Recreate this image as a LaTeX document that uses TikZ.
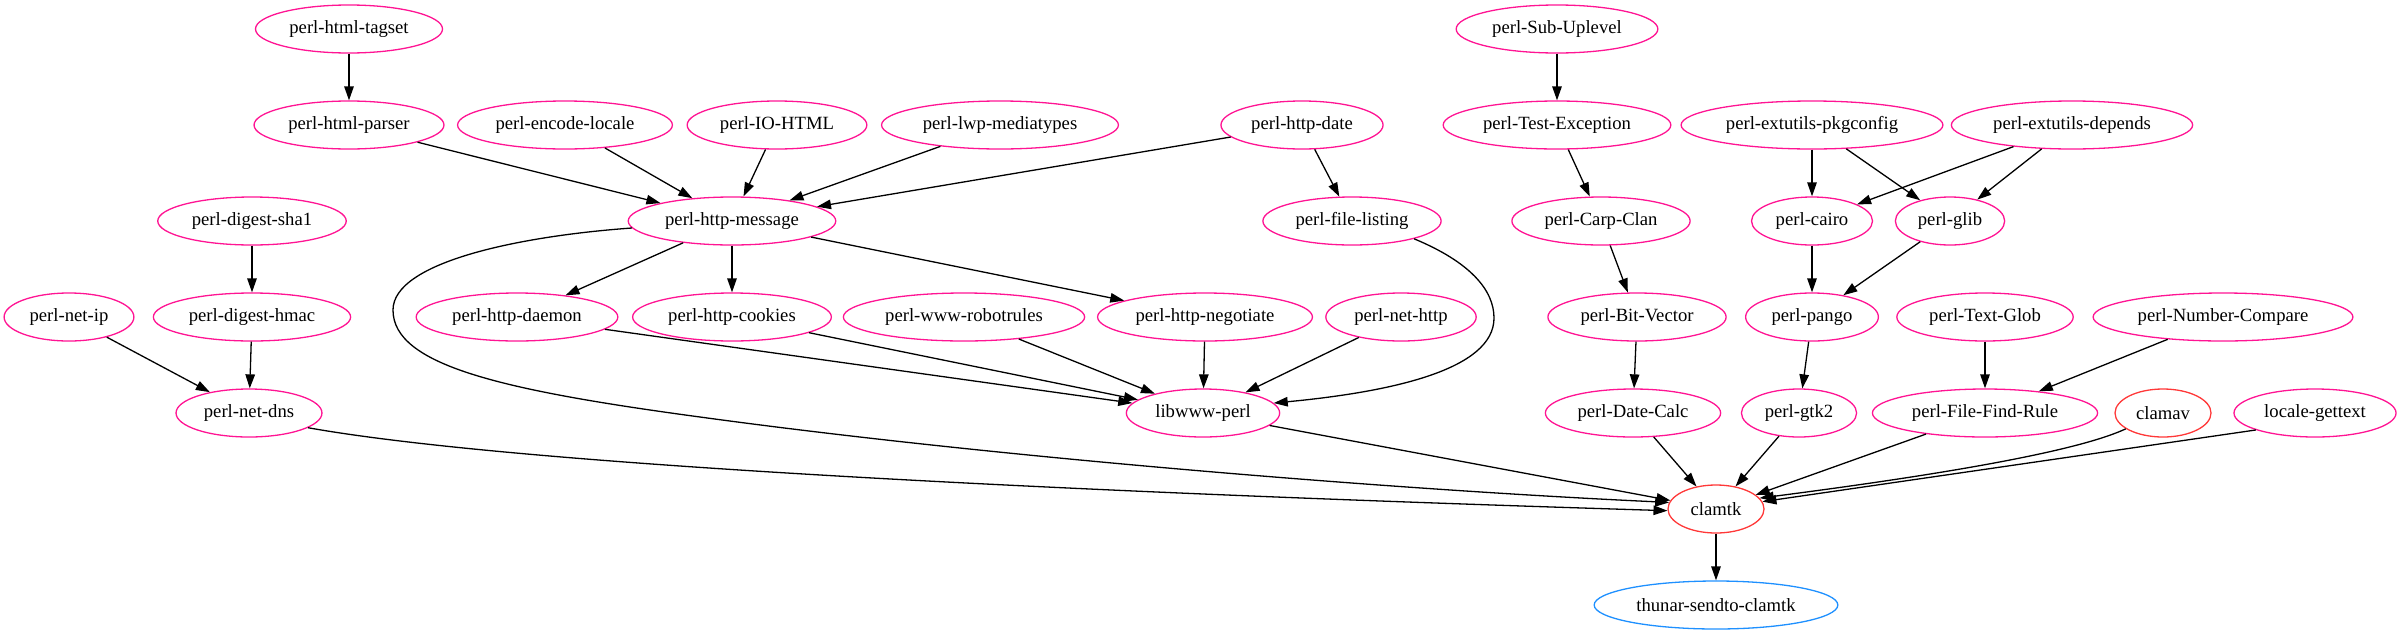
\documentclass[tikz,border=0pt]{standalone}
\usepackage{fontspec}
\setmainfont{Liberation Serif}
\usetikzlibrary{shapes.geometric,arrows.meta}
\definecolor{gpink}{RGB}{255,20,147}
\definecolor{gred}{RGB}{255,56,56}
\definecolor{gblue}{RGB}{30,144,255}
\begin{document}
\begin{tikzpicture}[x=1pt,y=-1pt,
  pk/.style={ellipse, draw=gpink, line width=1.3pt, inner xsep=6.5pt, inner ysep=0pt,
    minimum width=96pt, minimum height=48pt, font=\fontsize{18.67}{22}\selectfont},
  rd/.style={pk, draw=gred},
  bl/.style={pk, draw=gblue},
  edge/.style={-{Triangle[length=14pt,width=9.5pt]}, line width=1.3pt, black}]
\useasboundingbox (0,0) rectangle (2397,635);
% row 0
\node[pk] (tagset) at (349,29) {perl-html-tagset};
\node[pk] (subup) at (1557,29) {perl-Sub-Uplevel};
% row 1
\node[pk] (parser) at (349,125) {perl-html-parser};
\node[pk] (encode) at (565,125) {perl-encode-locale};
\node[pk] (iohtml) at (777,125) {perl-IO-HTML};
\node[pk] (lwp) at (1000,125) {perl-lwp-mediatypes};
\node[pk] (httpdate) at (1302,125) {perl-http-date};
\node[pk] (testexc) at (1557,125) {perl-Test-Exception};
\node[pk] (pkgconfig) at (1812,125) {perl-extutils-pkgconfig};
\node[pk] (depends) at (2072,125) {perl-extutils-depends};
% row 2
\node[pk] (sha1) at (252,221) {perl-digest-sha1};
\node[pk] (message) at (732,221) {perl-http-message};
\node[pk] (filelisting) at (1352,221) {perl-file-listing};
\node[pk] (carp) at (1601,221) {perl-Carp-Clan};
\node[pk] (cairo) at (1812,221) {perl-cairo};
\node[pk] (glib) at (1950,221) {perl-glib};
% row 3
\node[pk] (netip) at (69,317) {perl-net-ip};
\node[pk] (hmac) at (252,317) {perl-digest-hmac};
\node[pk] (daemon) at (517,317) {perl-http-daemon};
\node[pk] (cookies) at (732,317) {perl-http-cookies};
\node[pk] (robot) at (964,317) {perl-www-robotrules};
\node[pk] (negotiate) at (1205,317) {perl-http-negotiate};
\node[pk] (nethttp) at (1401,317) {perl-net-http};
\node[pk] (bitvec) at (1637,317) {perl-Bit-Vector};
\node[pk] (pango) at (1812,317) {perl-pango};
\node[pk] (textglob) at (1985,317) {perl-Text-Glob};
\node[pk] (numcmp) at (2223,317) {perl-Number-Compare};
% row 4
\node[pk] (netdns) at (249,413) {perl-net-dns};
\node[pk] (libwww) at (1203,413) {libwww-perl};
\node[pk] (datecalc) at (1633,413) {perl-Date-Calc};
\node[pk] (gtk2) at (1799,413) {perl-gtk2};
\node[pk] (findrule) at (1985,413) {perl-File-Find-Rule};
\node[rd] (clamav) at (2163,413) {clamav};
\node[pk] (gettext) at (2315,413) {locale-gettext};
% row 5, 6
\node[rd] (clamtk) at (1716,509) {clamtk};
\node[bl] (thunar) at (1716,605) {thunar-sendto-clamtk};
% edges
\draw[edge] (tagset) -- (parser);
\draw[edge] (parser) -- (message);
\draw[edge] (encode) -- (message);
\draw[edge] (iohtml) -- (message);
\draw[edge] (lwp) -- (message);
\draw[edge] (httpdate) -- (message);
\draw[edge] (httpdate) -- (filelisting);
\draw[edge] (subup) -- (testexc);
\draw[edge] (testexc) -- (carp);
\draw[edge] (pkgconfig) -- (cairo);
\draw[edge] (pkgconfig) -- (glib);
\draw[edge] (depends) -- (cairo);
\draw[edge] (depends) -- (glib);
\draw[edge] (sha1) -- (hmac);
\draw[edge] (message.184) .. controls (520,236) and (393,262) .. (393,310)
   .. controls (393,365) and (500,390) .. (700,417)
   .. controls (1000,458) and (1400,490) .. (clamtk.172);
\draw[edge] (message) -- (daemon);
\draw[edge] (message) -- (cookies);
\draw[edge] (message) -- (negotiate);
\draw[edge] (filelisting.-16) .. controls (1470,262) and (1494,290) .. (1494,318)
   .. controls (1494,370) and (1390,392) .. (libwww.8);
\draw[edge] (carp) -- (bitvec);
\draw[edge] (cairo) -- (pango);
\draw[edge] (glib) -- (pango);
\draw[edge] (netip) -- (netdns);
\draw[edge] (hmac) -- (netdns);
\draw[edge] (daemon) -- (libwww);
\draw[edge] (cookies) -- (libwww);
\draw[edge] (robot) -- (libwww);
\draw[edge] (negotiate) -- (libwww);
\draw[edge] (nethttp) -- (libwww);
\draw[edge] (bitvec) -- (datecalc);
\draw[edge] (pango) -- (gtk2);
\draw[edge] (textglob) -- (findrule);
\draw[edge] (numcmp) -- (findrule);
\draw[edge] (netdns.-14) .. controls (500,462) and (1000,490) .. (clamtk.182);
\draw[edge] (libwww) -- (clamtk);
\draw[edge] (datecalc) -- (clamtk);
\draw[edge] (gtk2) -- (clamtk);
\draw[edge] (findrule) -- (clamtk);
\draw[edge] (clamav.203) .. controls (2070,455) and (1900,480) .. (clamtk.14);
\draw[edge] (gettext.196) -- (clamtk.9);
\draw[edge] (clamtk) -- (thunar);
\end{tikzpicture}
\end{document}
